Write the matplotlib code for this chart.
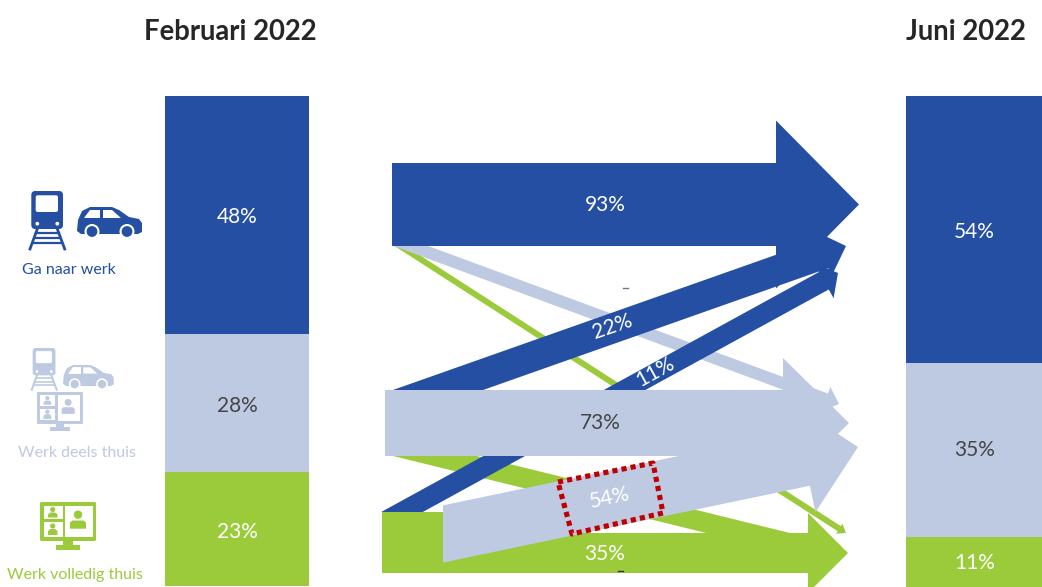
import numpy as np
import matplotlib
matplotlib.use("Agg")
import matplotlib.pyplot as plt
from matplotlib.patches import Polygon, Rectangle, Circle, FancyBboxPatch

# -----------------------------
# Data (percentages)
# -----------------------------
categories = ["Ga naar werk", "Werk deels thuis", "Werk volledig thuis"]
feb_2022 = [48, 28, 23]
jun_2022 = [54, 35, 11]
titles = ["Februari 2022", "Juni 2022"]

# flows: share of each February group that ends up in a June group
flow_labels = ["93%", "22%", "11%", "73%", "54%", "35%"]

# -----------------------------
# Style and layout
# -----------------------------
BLUE = "#244FA2"
LIGHT = "#BDCAE2"
GREEN = "#9BCB3B"
DARK = "#454545"
RED = "#C00000"
colors = [BLUE, LIGHT, GREEN]
bar_text = ["white", DARK, "white"]

FONT = ["Lato", "Liberation Sans", "DejaVu Sans"]
PX_PER_PCT = 4.95
BAR_TOP = 96

fig = plt.figure(figsize=(10.42, 5.87), dpi=100)
ax = fig.add_axes([0, 0, 1, 1])
ax.set_xlim(0, 1042)
ax.set_ylim(587, 0)
ax.axis("off")


def stacked_bar(values, x0, x1, label_y):
    bottom = BAR_TOP
    for val, col, tcol, ly in zip(values, colors, bar_text, label_y):
        h = val * PX_PER_PCT
        ax.bar(x0, h, width=x1 - x0, bottom=bottom, align="edge", color=col, zorder=2)
        ax.text((x0 + x1) / 2 + 0.5, ly, f"{val}%", color=tcol, family=FONT,
                fontsize=15, ha="center", va="center", zorder=3)
        bottom += h


def flow_arrow(start, tip, width, head_len, head_half, cut, color, z):
    # shaft + head polygon, start of the shaft cut horizontally or vertically
    start = np.array(start, float)
    tip = np.array(tip, float)
    u = (tip - start) / np.linalg.norm(tip - start)
    n = np.array([-u[1], u[0]])
    c = np.array([1.0, 0.0]) if cut == "h" else np.array([0.0, 1.0])
    d = c.dot(n)
    k = (width / 2) / abs(d)
    c = c * np.sign(d)
    base = tip - head_len * u
    pts = [start + k * c, base + width / 2 * n, base + head_half * n, tip,
           base - head_half * n, base - width / 2 * n, start - k * c]
    ax.add_patch(Polygon(pts, closed=True, facecolor=color, edgecolor="none", zorder=z))


def train(x, y, s, col):
    ax.add_patch(FancyBboxPatch((x + 3.3 * s, y + 1 * s), 29.7 * s, 36 * s,
                                boxstyle=f"round,pad={1 * s},rounding_size={4 * s}",
                                fc=col, ec="none", zorder=4))
    ax.add_patch(FancyBboxPatch((x + 7.7 * s, y + 5.3 * s), 20.3 * s, 14.7 * s,
                                boxstyle=f"round,pad={1 * s},rounding_size={2 * s}",
                                fc="white", ec="none", zorder=5))
    for cx in (8.3, 28.3):
        ax.add_patch(Circle((x + cx * s, y + 32.7 * s), 1.9 * s, fc="white", ec="none", zorder=5))
    lw = 2.0 * s
    ax.plot([x + 8.3 * s, x + 1 * s], [y + 38 * s, y + 58 * s], color=col, lw=lw, zorder=4)
    ax.plot([x + 28.3 * s, x + 35.7 * s], [y + 38 * s, y + 58 * s], color=col, lw=lw, zorder=4)
    for sy, a, b in ((42, 7, 29.5), (47, 5.5, 31), (52, 3.5, 33)):
        ax.plot([x + a * s, x + b * s], [y + sy * s, y + sy * s], color=col, lw=lw * 0.8, zorder=4)


def car(x, y, s, col):
    body = [(1, 13), (5, 4), (13, 0), (35, 0), (42, 3), (52, 10), (62, 12), (65, 16),
            (65, 25), (61, 27), (4, 27), (0, 24)]
    ax.add_patch(Polygon([(x + a * s, y + b * s) for a, b in body], fc=col, ec="none", zorder=4))
    for win in ([(13, 3), (23, 3), (23, 11), (7, 11)], [(26, 3), (35, 3), (44, 11), (26, 11)]):
        ax.add_patch(Polygon([(x + a * s, y + b * s) for a, b in win], fc="white", ec="none", zorder=5))
    for cx in (15, 50):
        ax.add_patch(Circle((x + cx * s, y + 24.5 * s), 7.5 * s, fc="white", ec="none", zorder=5))
        ax.add_patch(Circle((x + cx * s, y + 24.5 * s), 5.4 * s, fc=col, ec="none", zorder=6))


def monitor(x, y, s, col):
    ax.add_patch(FancyBboxPatch((x + 1 * s, y + 1 * s), 54 * s, 37 * s,
                                boxstyle=f"round,pad={1 * s},rounding_size={1.5 * s}",
                                fc=col, ec="none", zorder=4))
    ax.add_patch(Rectangle((x + 23 * s, y + 39 * s), 10 * s, 5 * s, fc=col, ec="none", zorder=4))
    ax.add_patch(Rectangle((x + 16 * s, y + 43 * s), 24 * s, 5 * s, fc=col, ec="none", zorder=4))
    for a, b, w, h in ((3.8, 3.8, 18.7, 13.4), (3.8, 20.3, 18.7, 14.2), (25, 3.8, 27.5, 31.2)):
        ax.add_patch(Rectangle((x + a * s, y + b * s), w * s, h * s, fc="white", ec="none", zorder=5))
    for cx, cy, r, sx0, sx1, sy0, sy1 in ((12.7, 7.5, 2.6, 8, 17.5, 10.5, 15.5),
                                          (12.7, 24, 2.6, 8, 17.5, 27, 33),
                                          (38, 12.7, 4.2, 30, 46, 18.5, 26.7)):
        ax.add_patch(Circle((x + cx * s, y + cy * s), r * s, fc=col, ec="none", zorder=6))
        ax.add_patch(Polygon([(x + sx0 * s, y + sy1 * s), (x + sx0 * s, y + (sy0 + 2) * s),
                              (x + (sx0 + 2.5) * s, y + sy0 * s), (x + (sx1 - 2.5) * s, y + sy0 * s),
                              (x + sx1 * s, y + (sy0 + 2) * s), (x + sx1 * s, y + sy1 * s)],
                             fc=col, ec="none", zorder=6))


# -----------------------------
# Stacked bars and titles
# -----------------------------
stacked_bar(feb_2022, 165, 309, (217, 406, 532))
stacked_bar(jun_2022, 906, 1042, (232, 450, 563))
for txt, xc in zip(titles, (230, 966)):
    ax.text(xc, 32, txt, family=FONT, fontsize=19.8, fontweight="bold", color="#262626",
            ha="center", va="center")

# -----------------------------
# Flow arrows, back to front
# -----------------------------
flow_arrow((400, 246), (846, 533), 6, 8, 6, "h", GREEN, 2.1)
flow_arrow((435, 456), (840, 555.6), 20, 20, 20, "h", GREEN, 2.2)
flow_arrow((411, 246), (839, 404), 12, 14, 13, "h", LIGHT, 2.3)
flow_arrow((382, 553), (848, 553), 40, 40, 40, "v", GREEN, 2.4)
ax.add_patch(Rectangle((382, 512), 61, 61, fc=GREEN, ec="none", zorder=2.4))
flow_arrow((438, 390), (846, 246), 30, 24, 24, "h", BLUE, 2.5)
flow_arrow((402, 512), (838, 273), 20, 16, 20, "h", BLUE, 2.6)
flow_arrow((385, 423), (849, 423), 66, 66, 65, "v", LIGHT, 2.7)
flow_arrow((443, 534), (858, 447), 56, 55, 55, "v", LIGHT, 2.8)
flow_arrow((392, 204.5), (859, 204.5), 83, 83, 84, "v", BLUE, 2.9)

# flow labels
label_xy = [(605, 205), (612, 327), (655, 372), (600, 423), (610, 498), (605, 554)]
label_rot = [0, 19, 29, 0, 12, 0]
label_col = ["white", "white", "white", DARK, "white", "white"]
for txt, (lx, ly), rot, col in zip(flow_labels, label_xy, label_rot, label_col):
    ax.text(lx, ly, txt, family=FONT, fontsize=15, color=col, rotation=rot,
            rotation_mode="anchor", ha="center", va="center", zorder=7)

# red dotted highlight around the 54%
bx = [558, 653, 663, 572, 558]
by = [482, 463, 513, 534, 482]
ax.plot(bx, by, color=RED, lw=3.7, dashes=(1.0, 0.8), zorder=8)

# stray specks in the source image
ax.plot([623, 628], [288, 288], color="#777777", lw=1, zorder=8)
ax.plot([618, 623], [571, 571], color="#333333", lw=1, zorder=8)

# -----------------------------
# Icons and row labels
# -----------------------------
train(29, 191, 1.0, BLUE)
car(77, 207, 1.0, BLUE)
train(31, 348, 0.72, LIGHT)
car(63, 365, 0.78, LIGHT)
monitor(37, 392, 0.82, LIGHT)
monitor(40, 502, 1.0, GREEN)

for txt, col, xc, yc in zip(categories, colors, (69, 77, 75), (270, 453, 575)):
    ax.text(xc, yc, txt, family=FONT, fontsize=11.5, color=col, ha="center", va="center")

fig.savefig("out.png", dpi=100)
